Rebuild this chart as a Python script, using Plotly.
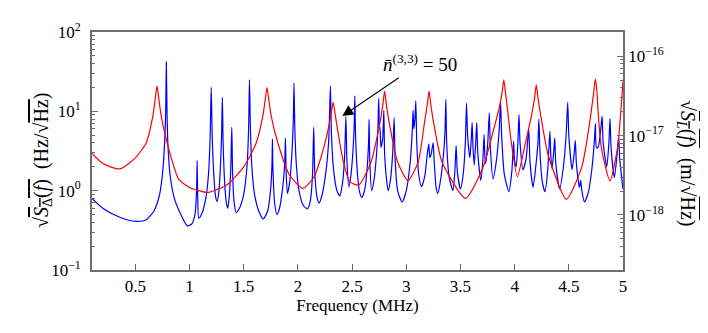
import plotly.graph_objects as go

# blue curve: sqrt(S_Delta) in Hz/sqrt(Hz) (troughs, flanks, peaks)
freq_blue = [0.10, 0.20, 0.30, 0.42, 0.52, 0.60, 0.67, 0.72, 0.75, 0.77,
             0.78, 0.786, 0.792, 0.80, 0.82, 0.86, 0.92, 0.98, 1.02, 1.05,
             1.065, 1.07, 1.075, 1.085, 1.11, 1.15, 1.175, 1.19, 1.20, 1.21,
             1.225, 1.24, 1.255, 1.27, 1.285, 1.296, 1.303, 1.31, 1.325, 1.34,
             1.353, 1.365, 1.38, 1.39, 1.397, 1.41, 1.43, 1.46, 1.50, 1.53,
             1.545, 1.553, 1.562, 1.575, 1.60, 1.64, 1.68, 1.72, 1.75, 1.761,
             1.765, 1.769, 1.785, 1.807, 1.83, 1.86, 1.878, 1.885, 1.891, 1.903,
             1.925, 1.945, 1.957, 1.964, 1.972, 1.985, 2.01, 2.05, 2.088, 2.115,
             2.135, 2.146, 2.155, 2.175, 2.195, 2.22, 2.26, 2.285, 2.30, 2.31,
             2.33, 2.36, 2.387, 2.41, 2.43, 2.443, 2.452, 2.47, 2.49, 2.51,
             2.52, 2.525, 2.532, 2.55, 2.57, 2.59, 2.615, 2.64, 2.652, 2.657,
             2.663, 2.68, 2.70, 2.725, 2.738, 2.746, 2.752, 2.758, 2.766, 2.782,
             2.793, 2.80, 2.815, 2.833, 2.855, 2.875, 2.888, 2.897, 2.92, 2.962,
             3.00, 3.035, 3.055, 3.063, 3.07, 3.08, 3.088, 3.097, 3.115, 3.14,
             3.17, 3.195, 3.208, 3.217, 3.228, 3.24, 3.248, 3.258, 3.275, 3.29,
             3.31, 3.345, 3.358, 3.365, 3.373, 3.395, 3.43, 3.448, 3.46, 3.472,
             3.50, 3.525, 3.545, 3.556, 3.566, 3.587, 3.60, 3.608, 3.616, 3.627,
             3.64, 3.65, 3.66, 3.687, 3.705, 3.718, 3.726, 3.733, 3.752, 3.766,
             3.776, 3.80, 3.83, 3.858, 3.87, 3.88, 3.905, 3.947, 3.975, 3.99,
             4.00, 4.014, 4.03, 4.04, 4.05, 4.077, 4.105, 4.13, 4.142, 4.17,
             4.195, 4.215, 4.224, 4.234, 4.255, 4.28, 4.305, 4.325, 4.335, 4.345,
             4.36, 4.37, 4.38, 4.415, 4.45, 4.475, 4.49, 4.50, 4.53, 4.55,
             4.56, 4.57, 4.598, 4.61, 4.62, 4.645, 4.68, 4.715, 4.737, 4.745,
             4.755, 4.77, 4.795, 4.807, 4.817, 4.85, 4.87, 4.88, 4.89, 4.92,
             4.945, 4.96, 4.97, 5.00]
s_delta = [0.80, 0.60, 0.50, 0.43, 0.41, 0.43, 0.55, 0.85, 1.6, 4.0,
           10, 42, 10, 4.0, 1.6, 0.8, 0.5, 0.36, 0.38, 0.5,
           1.0, 2.4, 0.9, 0.45, 0.5, 0.8, 1.6, 4.5, 20, 4.5,
           1.5, 0.85, 0.73, 0.95, 2.0, 5.0, 15, 4.0, 1.2, 0.7,
           0.6, 0.8, 1.8, 6.3, 1.8, 0.75, 0.53, 0.6, 0.9, 2.0,
           6.0, 25, 6.0, 2.0, 0.9, 0.55, 0.44, 0.55, 1.1, 2.2,
           4.5, 2.0, 0.7, 0.5, 0.6, 1.1, 2.2, 4.6, 1.8, 0.92,
           1.3, 3.0, 7.0, 22.6, 6.0, 2.2, 1.0, 0.65, 0.59, 0.75,
           1.6, 6.3, 1.8, 0.85, 0.7, 0.85, 1.8, 4.5, 20.8, 5.0,
           1.8, 1.0, 0.86, 1.2, 2.5, 8.5, 2.5, 1.12, 1.6, 3.5,
           7.0, 15.7, 5.0, 1.6, 0.95, 0.82, 1.0, 2.0, 4.0, 7.9,
           2.5, 1.0, 1.3, 2.8, 6.0, 14.6, 6.5, 6.0, 3.5, 4.5,
           10.2, 3.0, 1.5, 1.0, 1.4, 3.0, 8.3, 2.5, 1.0, 0.72,
           1.0, 2.2, 5.5, 10.3, 6.0, 8.0, 13.6, 4.0, 1.6, 1.12,
           1.5, 3.0, 3.9, 2.6, 2.8, 3.5, 4.0, 2.3, 1.1, 0.92,
           1.2, 3.0, 6.0, 14.2, 4.0, 1.5, 1.0, 1.7, 3.7, 1.7,
           1.05, 1.6, 4.0, 12.6, 5.0, 2.6, 4.5, 7.2, 3.5, 2.1,
           3.8, 7.2, 3.0, 1.35, 2.2, 5.1, 2.6, 2.2, 4.0, 9.6,
           3.5, 1.4, 2.3, 6.0, 13.2, 5.0, 1.6, 0.97, 1.8, 4.2,
           2.4, 2.0, 4.0, 9.1, 4.0, 1.84, 2.5, 6.0, 2.3, 1.1,
           2.0, 4.0, 7.9, 3.0, 1.3, 0.97, 1.8, 5.6, 2.6, 1.9,
           3.0, 4.6, 2.2, 1.05, 2.0, 5.0, 13.0, 5.0, 1.84, 3.0,
           4.3, 2.2, 1.1, 1.35, 1.0, 0.72, 0.95, 2.0, 4.5, 7.0,
           3.5, 3.5, 6.0, 8.7, 4.0, 2.0, 4.0, 8.1, 3.5, 1.46,
           2.8, 4.8, 2.5, 1.05]

# red curve: sqrt(S_L) in m/sqrt(Hz)
freq_red = [0.10, 0.20, 0.356, 0.50, 0.60, 0.66, 0.685, 0.70, 0.715, 0.74,
            0.80, 0.90, 1.00, 1.17, 1.35, 1.50, 1.615, 1.675, 1.70, 1.715,
            1.73, 1.755, 1.815, 1.92, 2.047, 2.15, 2.225, 2.285, 2.31, 2.325,
            2.34, 2.365, 2.42, 2.48, 2.56, 2.67, 2.76, 2.785, 2.80, 2.815,
            2.84, 2.92, 3.016, 3.11, 3.17, 3.195, 3.21, 3.225, 3.25, 3.33,
            3.547, 3.71, 3.80, 3.86, 3.885, 3.90, 3.915, 3.94, 3.97, 4.025,
            4.09, 4.16, 4.185, 4.20, 4.215, 4.24, 4.31, 4.478, 4.62, 4.70,
            4.73, 4.745, 4.76, 4.77, 4.80, 4.88, 4.95, 4.98, 5.00]
s_l = [5.96e-18, 4.44e-18, 3.80e-18, 5.25e-18, 8.08e-18, 1.72e-17, 3.03e-17, 4.24e-17, 3.03e-17, 1.72e-17,
       7.47e-18, 2.83e-18, 2.22e-18, 1.92e-18, 2.42e-18, 4.04e-18, 8.08e-18, 1.72e-17, 2.93e-17, 4.04e-17,
       2.93e-17, 1.72e-17, 8.08e-18, 3.23e-18, 2.16e-18, 3.03e-18, 6.06e-18, 1.31e-17, 2.02e-17, 2.63e-17,
       2.02e-17, 1.21e-17, 4.65e-18, 2.63e-18, 2.38e-18, 4.44e-18, 1.52e-17, 2.53e-17, 3.64e-17, 2.53e-17,
       1.52e-17, 4.65e-18, 2.71e-18, 4.65e-18, 1.52e-17, 2.53e-17, 3.64e-17, 2.53e-17, 1.52e-17, 4.65e-18,
       1.62e-18, 4.04e-18, 1.11e-17, 2.32e-17, 3.54e-17, 5.05e-17, 3.54e-17, 1.82e-17, 8.08e-18, 3.03e-18,
       7.07e-18, 1.92e-17, 3.03e-17, 4.36e-17, 3.03e-17, 1.82e-17, 5.66e-18, 1.58e-18, 4.04e-18, 1.72e-17,
       3.54e-17, 5.17e-17, 3.54e-17, 2.02e-17, 7.07e-18, 2.69e-18, 7.07e-18, 2.02e-17, 4.85e-17]

left_ticks = [0.1, 1, 10, 100]
left_labels = ["10<sup>−1</sup>", "10<sup>0</sup>", "10<sup>1</sup>", "10<sup>2</sup>"]
right_ticks = [1e-18, 1e-17, 1e-16]
right_labels = ["10<sup>−18</sup>", "10<sup>−17</sup>", "10<sup>−16</sup>"]
x_ticks = [0.5, 1, 1.5, 2, 2.5, 3, 3.5, 4, 4.5, 5]

FONT = "serif"
AXCOL = "#6e6e6e"


def minor_vals(lo, hi):
    out = []
    for e in range(lo, hi):
        out += [m * 10.0 ** e for m in range(2, 10)]
    return out


fig = go.Figure()
fig.add_trace(go.Scatter(x=freq_blue, y=s_delta, mode="lines",
                         line=dict(color="#0000ff", width=1.2, shape="spline", smoothing=0.6),
                         showlegend=False, hoverinfo="skip"))
fig.add_trace(go.Scatter(x=freq_red, y=s_l, mode="lines", yaxis="y2",
                         line=dict(color="#ff0000", width=1.2, shape="spline", smoothing=0.6),
                         showlegend=False, hoverinfo="skip"))

common = dict(ticks="inside", ticklen=6, tickcolor=AXCOL, tickwidth=1.3,
              showline=True, linecolor=AXCOL, linewidth=1.6, showgrid=False,
              zeroline=False, tickfont=dict(family=FONT, size=17, color="black"))

# the page body has an 8px margin, so the figure is 700x325 and shifted
fig.update_layout(
    width=700, height=325,
    margin=dict(l=84, r=85, t=17, b=63),
    paper_bgcolor="white", plot_bgcolor="white",
    font=dict(family=FONT, color="black"),
    xaxis=dict(range=[0.1, 5], tickmode="array", tickvals=x_ticks, mirror=True,
               title=dict(text="Frequency (MHz)", font=dict(family=FONT, size=17), standoff=2),
               **common),
    yaxis=dict(type="log", range=[-1, 2], tickmode="array", tickvals=left_ticks,
               ticktext=left_labels, ticklabelstandoff=6,
               minor=dict(ticks="inside", ticklen=3, tickcolor=AXCOL, tickmode="array",
                          tickvals=minor_vals(-1, 2)),
               **common),
    yaxis2=dict(type="log", range=[-18.694, -15.694], tickmode="array",
                tickvals=right_ticks, ticktext=right_labels,
                overlaying="y", side="right",
                minor=dict(ticks="inside", ticklen=3, tickcolor=AXCOL, tickmode="array",
                           tickvals=minor_vals(-19, -15)),
                **common),
    annotations=[
        dict(x=2.41, y=0.94, xref="x", yref="y",
             text="<i>n̄</i><sup>(3,3)</sup> = 50", showarrow=True,
             ax=78, ay=-53, arrowhead=2, arrowsize=2.0, arrowwidth=1.1,
             arrowcolor="black", standoff=0, startstandoff=2,
             font=dict(family=FONT, size=19, color="black")),
        dict(x=0, y=0.5, xref="paper", yref="paper", xshift=-50, yshift=-10,
             xanchor="center", yanchor="middle", showarrow=False,
             text="√<span style='text-decoration:overline'><i>S</i><sub>Δ</sub>(<i>f</i>)</span>  (Hz/√<span style='text-decoration:overline'>Hz</span>)",
             textangle=-90, font=dict(family=FONT, size=20, color="black")),
        dict(x=1, y=0.5, xref="paper", yref="paper", xshift=64, yshift=-12,
             xanchor="center", yanchor="middle", showarrow=False,
             text="√<span style='text-decoration:overline'><i>S</i><sub><i>L</i></sub>(<i>f</i>)</span>  (m/√<span style='text-decoration:overline'>Hz</span>)",
             textangle=90, font=dict(family=FONT, size=20, color="black")),
    ],
)

fig.write_html("out.html")
